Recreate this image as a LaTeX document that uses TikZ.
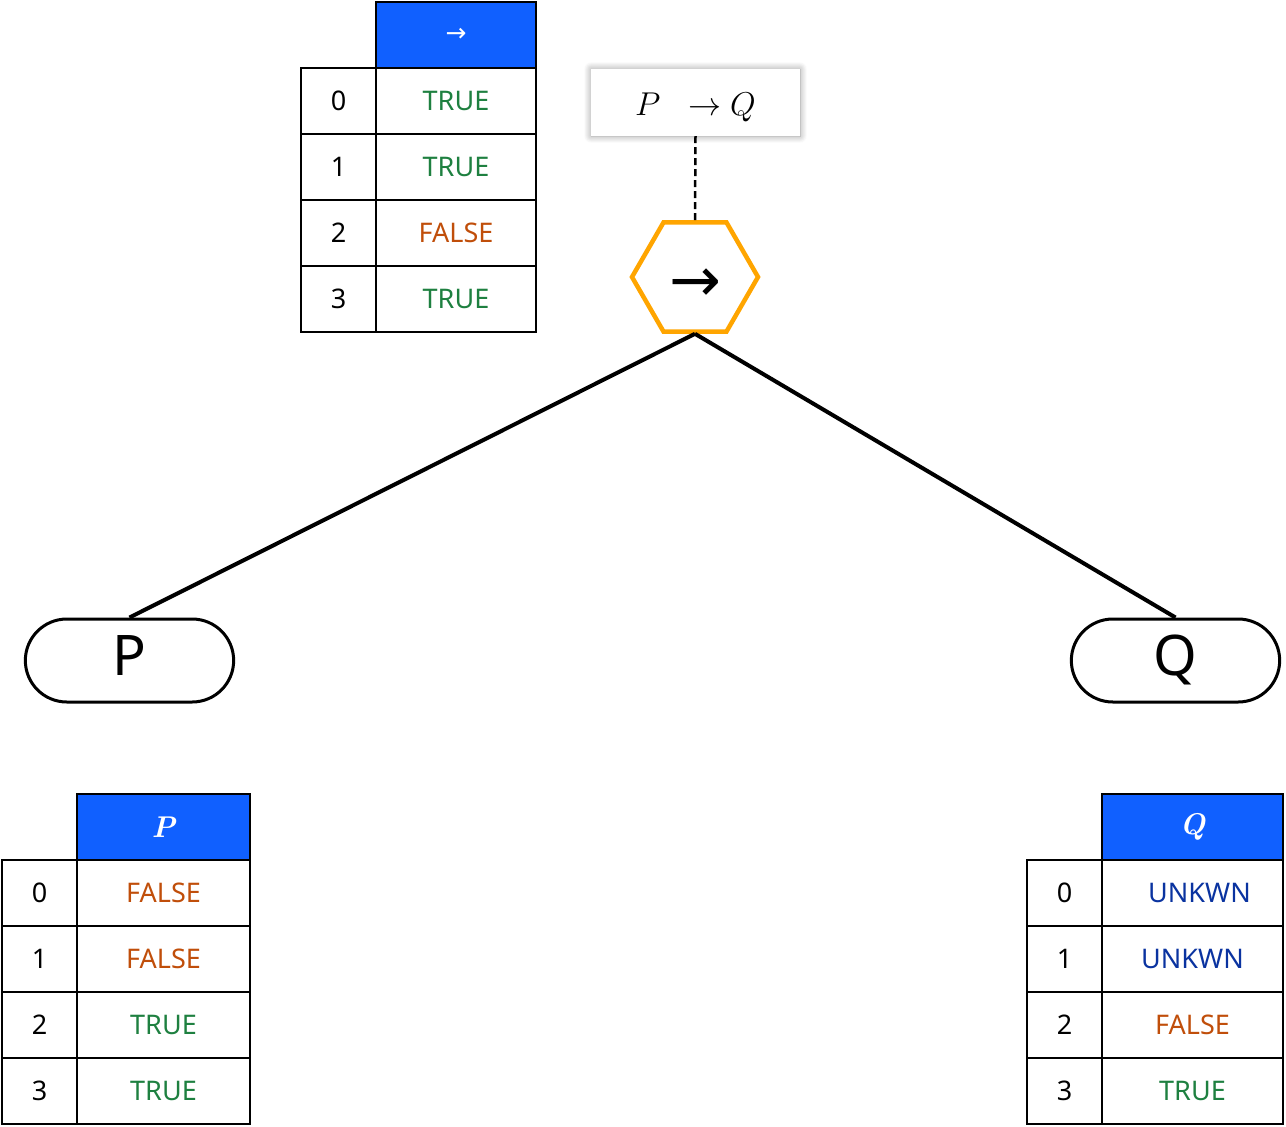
\documentclass[tikz,border=0pt]{standalone}
\usepackage{fix-cm}
\usepackage{amsmath}
\usepackage{amssymb}
\usepackage{fontspec}
\setsansfont{Noto Sans}
\newfontfamily\arrowfont{DejaVu Sans}
\usetikzlibrary{positioning, shapes.geometric, shapes.misc, shadows.blur}

\definecolor{headblue}{HTML}{1060FF}
\definecolor{truegreen}{HTML}{1E8040}
\definecolor{falseorange}{HTML}{C04E0A}
\definecolor{unkblue}{HTML}{0A33A0}
\definecolor{hexorange}{HTML}{FFA500}

\tikzset{
  tcell/.style={draw, line width=2pt, inner sep=0pt, outer sep=0pt, minimum height=66pt, font=\sffamily\fontsize{27}{27}\selectfont},
  idx/.style={tcell, minimum width=75pt},
  headcell/.style={tcell, fill=headblue, text=white},
  valT/.style={tcell, text=truegreen},
  valF/.style={tcell, text=falseorange},
  valU/.style={tcell, text=unkblue},
  leaf/.style={rounded rectangle, draw, line width=3pt, minimum width=215pt, minimum height=83pt, text height=40pt, text depth=10pt, font=\sffamily\fontsize{56}{56}\selectfont},
  branch/.style={line width=4pt}
}

\begin{document}
\begin{tikzpicture}[x=1pt, y=-1pt]
\useasboundingbox (0,0) rectangle (1286,1127);

% table of the connective
\node[headcell, minimum width=160pt, font=\arrowfont\fontsize{25}{25}\selectfont] at (456,35) (impH) {→} ;
\node[idx] at (338.5,101) (impI0) {0} ;
\node[valT, minimum width=160pt] at (456,101) (impV0) {TRUE} ;
\node[idx] at (338.5,167) (impI1) {1} ;
\node[valT, minimum width=160pt] at (456,167) (impV1) {TRUE} ;
\node[idx] at (338.5,233) (impI2) {2} ;
\node[valF, minimum width=160pt] at (456,233) (impV2) {FALSE} ;
\node[idx] at (338.5,299) (impI3) {3} ;
\node[valT, minimum width=160pt] at (456,299) (impV3) {TRUE} ;

% formula and operator
\node[fill=white, blur shadow={shadow xshift=0pt, shadow yshift=0pt, shadow blur radius=7pt, shadow blur steps=10, shadow opacity=40}, minimum width=209pt, minimum height=67pt, text height=25pt, text depth=0pt, font=\fontsize{33}{33}\selectfont] at (695.5,102.5) (formula) {$P\;\;\rightarrow Q$\hspace{12pt}} ;
\node[regular polygon, regular polygon sides=6, draw=hexorange, line width=4.5pt, minimum size=126pt, inner sep=0pt, text height=48pt, text depth=0pt, font=\arrowfont\fontsize{62}{62}\selectfont] at (695,277) (imp) {→} ;

\node[leaf] at (129.5,660.5) (P) {P} ;
\node[leaf] at (1175.5,660.5) (Q) {Q} ;

\draw[line width=2.5pt, dash pattern=on 7pt off 4pt] (formula.south) -- (imp.north) ;
\draw[branch] (imp.south) -- (P.north) ;
\draw[branch] (imp.south) -- (Q.north) ;

% table of P
\node[headcell, minimum width=173pt, font=\rmfamily\bfseries\itshape\fontsize{30}{30}\selectfont] at (163.5,827) (pH) {P} ;
\node[idx] at (39.5,893) (pI0) {0} ;
\node[valF, minimum width=173pt] at (163.5,893) (pV0) {FALSE} ;
\node[idx] at (39.5,959) (pI1) {1} ;
\node[valF, minimum width=173pt] at (163.5,959) (pV1) {FALSE} ;
\node[idx] at (39.5,1025) (pI2) {2} ;
\node[valT, minimum width=173pt] at (163.5,1025) (pV2) {TRUE} ;
\node[idx] at (39.5,1091) (pI3) {3} ;
\node[valT, minimum width=173pt] at (163.5,1091) (pV3) {TRUE} ;

% table of Q
\node[headcell, minimum width=181pt, font=\rmfamily\bfseries\itshape\fontsize{30}{30}\selectfont] at (1192.5,827) (qH) {Q} ;
\node[idx] at (1064.5,893) (qI0) {0} ;
\node[valU, minimum width=181pt] at (1192.5,893) (qV0) {\hspace{14pt}UNKWN} ;
\node[idx] at (1064.5,959) (qI1) {1} ;
\node[valU, minimum width=181pt] at (1192.5,959) (qV1) {UNKWN} ;
\node[idx] at (1064.5,1025) (qI2) {2} ;
\node[valF, minimum width=181pt] at (1192.5,1025) (qV2) {FALSE} ;
\node[idx] at (1064.5,1091) (qI3) {3} ;
\node[valT, minimum width=181pt] at (1192.5,1091) (qV3) {TRUE} ;
\end{tikzpicture}
\end{document}
